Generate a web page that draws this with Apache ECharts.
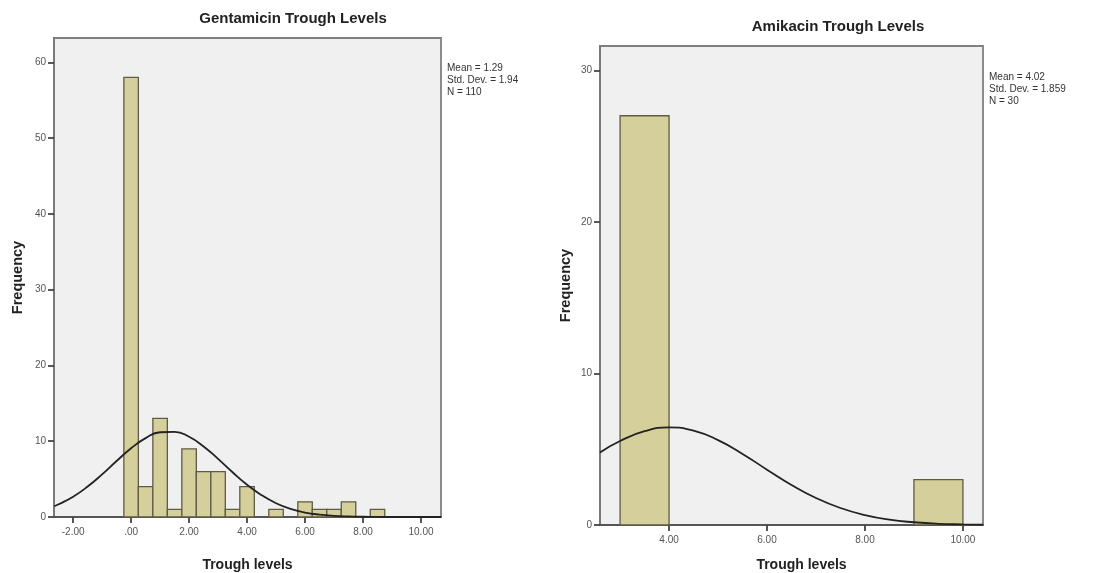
<!DOCTYPE html>
<html>
<head>
<meta charset="utf-8">
<script src="https://cdn.jsdelivr.net/npm/echarts@6/dist/echarts.min.js"></script>
<style>
  html, body { margin: 0; padding: 0; background: #fff; }
  #main { width: 1096px; height: 573px; }
</style>
</head>
<body>
<div id="main"></div>
<script>
// Gentamicin histogram (bin width 0.5)
var gentBinLo = [-0.25, 0.25, 0.75, 1.25, 1.75, 2.25, 2.75, 3.25, 3.75, 4.25, 4.75, 5.25, 5.75, 6.25, 6.75, 7.25, 7.75, 8.25];
var gentCounts = [58, 4, 13, 1, 9, 6, 6, 1, 4, 0, 1, 0, 2, 1, 1, 2, 0, 1];
// normal curve
var gentCurveX = [-2.65, -2.5, -2, -1.5, -1, -0.5, 0, 0.5, 1, 1.5, 2, 2.5, 3, 3.5, 4, 4.5, 5, 5.5, 6, 6.5, 7, 7.5, 8, 8.5, 9, 10, 10.69];
var gentCurveY = [1.42, 1.68, 2.68, 4.02, 5.63, 7.39, 9.07, 10.41, 11.18, 11.24, 10.58, 9.31, 7.67, 5.91, 4.26, 2.88, 1.82, 1.07, 0.59, 0.31, 0.15, 0.07, 0.03, 0.01, 0, 0, 0];
var gentXTicks = [-2, 0, 2, 4, 6, 8, 10];
var gentYTicks = [0, 10, 20, 30, 40, 50, 60];
var gentStats = ['Mean = 1.29', 'Std. Dev. = 1.94', 'N = 110'];

// Amikacin histogram (bin width 1)
var amiBinLo = [3, 9];
var amiBinHi = [4, 10];
var amiCounts = [27, 3];
var amiCurveX = [2.59, 3, 3.5, 4, 4.5, 5, 5.5, 6, 6.5, 7, 7.5, 8, 8.5, 9, 9.5, 10, 10.41];
var amiCurveY = [4.79, 5.54, 6.19, 6.44, 6.23, 5.6, 4.69, 3.65, 2.64, 1.78, 1.12, 0.65, 0.35, 0.18, 0.08, 0.04, 0.02];
var amiXTicks = [4, 6, 8, 10];
var amiYTicks = [0, 10, 20, 30];
var amiStats = ['Mean = 4.02', 'Std. Dev. = 1.859', 'N = 30'];

var FONT = 'Liberation Sans, Arial, sans-serif';
var BAR_FILL = '#d4cf9b';
var BAR_EDGE = '#5e5c45';

function pairs(xs, ys) {
    var out = [];
    for (var i = 0; i < xs.length; i++) out.push([xs[i], ys[i]]);
    return out;
}

var gentBars = [];
for (var i = 0; i < gentBinLo.length; i++) {
    if (gentCounts[i] > 0) gentBars.push([gentBinLo[i], gentBinLo[i] + 0.5, gentCounts[i]]);
}
var amiBars = [];
for (var j = 0; j < amiBinLo.length; j++) {
    amiBars.push([amiBinLo[j], amiBinHi[j], amiCounts[j]]);
}

function renderBin(params, api) {
    var lo = api.coord([api.value(0), 0]);
    var hi = api.coord([api.value(1), api.value(2)]);
    return {
        type: 'rect',
        shape: { x: lo[0], y: hi[1], width: hi[0] - lo[0], height: lo[1] - hi[1] },
        style: { fill: BAR_FILL, stroke: BAR_EDGE, lineWidth: 1.3 }
    };
}

function fmtX(v) {
    return v === 0 ? '.00' : v.toFixed(2);
}

function xAxisCfg(idx, min, max, ticks, gap, namePad, labelMargin) {
    return {
        type: 'value', gridIndex: idx, min: min, max: max,
        name: 'Trough levels', nameLocation: 'middle', nameGap: gap,
        nameTextStyle: { fontFamily: FONT, fontWeight: 'bold', fontSize: 14, color: '#222', padding: namePad },
        axisLine: { onZero: false, lineStyle: { color: '#555', width: 1.8 } },
        axisTick: { customValues: ticks, length: 6, lineStyle: { color: '#444', width: 1.8 } },
        axisLabel: { customValues: ticks, formatter: fmtX, fontFamily: FONT, fontSize: 10, color: '#555', margin: labelMargin },
        splitLine: { show: false }
    };
}

function yAxisCfg(idx, max, ticks, gap) {
    return {
        type: 'value', gridIndex: idx, min: 0, max: max,
        name: 'Frequency', nameLocation: 'middle', nameGap: gap,
        nameTextStyle: { fontFamily: FONT, fontWeight: 'bold', fontSize: 14.5, color: '#222' },
        axisLine: { show: true, onZero: false, lineStyle: { color: '#777', width: 1.8 } },
        axisTick: { show: true, customValues: ticks, length: 6, lineStyle: { color: '#444', width: 1.8 } },
        axisLabel: { customValues: ticks, fontFamily: FONT, fontSize: 10, color: '#555', margin: 8 },
        splitLine: { show: false }
    };
}

function statsText(lines, x, y) {
    return lines.map(function (t, k) {
        return {
            type: 'text', x: x, y: y + k * 12,
            style: { text: t, fontFamily: FONT, fontSize: 10, fill: '#333', verticalAlign: 'middle' }
        };
    });
}

var myChart = echarts.init(document.getElementById('main'));

var option = {
    backgroundColor: '#fff',
    animation: false,
    grid: [
        { left: 54, top: 38, width: 387, height: 479, outerBoundsMode: 'none', containLabel: false, show: true, backgroundColor: '#f0f0f0', borderColor: '#808080', borderWidth: 1.8 },
        { left: 600, top: 46, width: 383, height: 479, outerBoundsMode: 'none', containLabel: false, show: true, backgroundColor: '#f0f0f0', borderColor: '#808080', borderWidth: 1.8 }
    ],
    xAxis: [
        xAxisCfg(0, -2.66, 10.69, gentXTicks, 41, [0, 0, 0, 0], 10),
        xAxisCfg(1, 2.59, 10.41, amiXTicks, 33, [0, 0, 0, 20], 10)
    ],
    yAxis: [
        yAxisCfg(0, 63.2, gentYTicks, 29),
        yAxisCfg(1, 31.6, amiYTicks, 27)
    ],
    graphic: [
        {
            type: 'text', x: 293, y: 19,
            style: { text: 'Gentamicin Trough Levels', fontFamily: FONT, fontWeight: 'bold', fontSize: 15, fill: '#222', align: 'center', verticalAlign: 'middle' }
        },
        {
            type: 'text', x: 838, y: 27,
            style: { text: 'Amikacin Trough Levels', fontFamily: FONT, fontWeight: 'bold', fontSize: 15, fill: '#222', align: 'center', verticalAlign: 'middle' }
        }
    ].concat(statsText(gentStats, 447, 68), statsText(amiStats, 989, 77)),
    series: [
        {
            type: 'custom', xAxisIndex: 0, yAxisIndex: 0, z: 2,
            renderItem: renderBin, encode: { x: [0, 1], y: 2 }, data: gentBars
        },
        {
            type: 'line', xAxisIndex: 0, yAxisIndex: 0, z: 3, smooth: true, showSymbol: false,
            lineStyle: { color: '#222', width: 1.8 }, data: pairs(gentCurveX, gentCurveY)
        },
        {
            type: 'custom', xAxisIndex: 1, yAxisIndex: 1, z: 2,
            renderItem: renderBin, encode: { x: [0, 1], y: 2 }, data: amiBars
        },
        {
            type: 'line', xAxisIndex: 1, yAxisIndex: 1, z: 3, smooth: true, showSymbol: false,
            lineStyle: { color: '#222', width: 1.8 }, data: pairs(amiCurveX, amiCurveY)
        }
    ]
};

myChart.setOption(option);
</script>
</body>
</html>
